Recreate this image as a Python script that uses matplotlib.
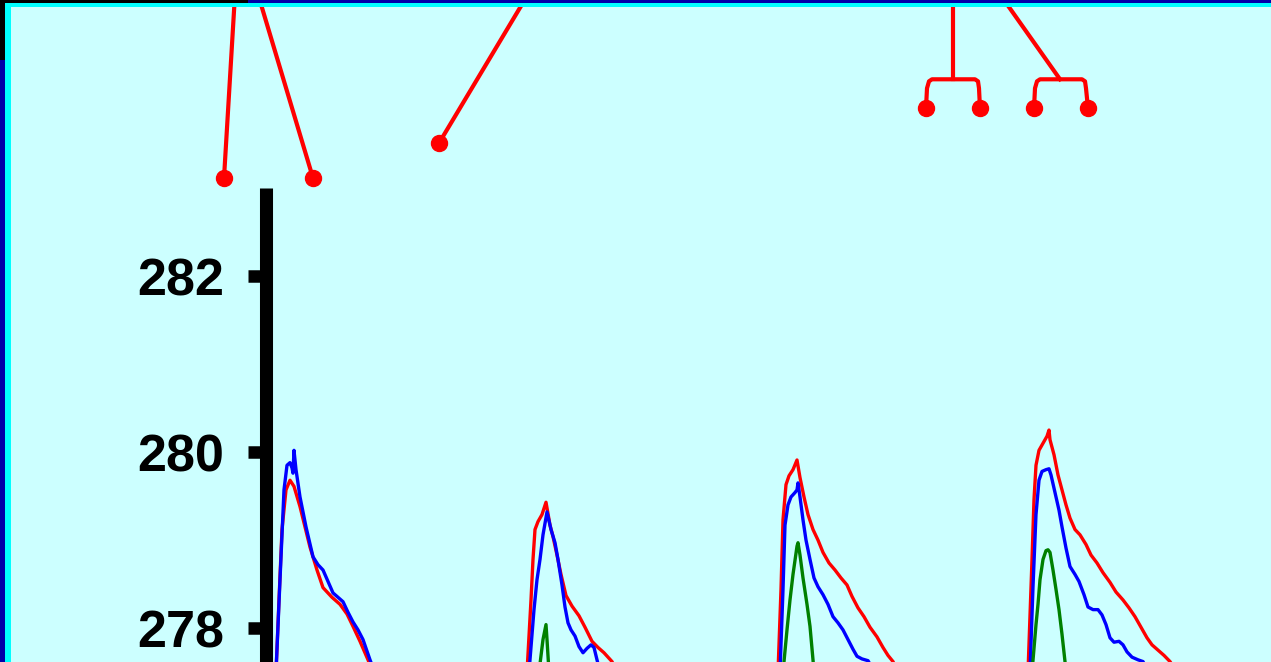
import matplotlib
matplotlib.use("Agg")
import matplotlib.pyplot as plt
from matplotlib.patches import Rectangle

# ---------------- data (x: time index, y: value) ----------------
yticks = [278, 280, 282]
ytick_labels = ["278", "280", "282"]

red1_x = [10, 13, 16, 20, 24, 28, 34, 44, 51, 57, 66, 74, 81, 87, 94, 102, 105]
red1_y = [277.50, 278.32, 279.12, 279.57, 279.68, 279.61, 279.38, 278.92, 278.66, 278.46,
          278.35, 278.27, 278.16, 278.02, 277.85, 277.64, 277.55]
blue1_x = [10, 14, 18, 21, 24, 26, 27, 28, 30, 34, 40, 47, 52, 57, 62, 67, 72, 77, 82, 87,
           92, 97, 104, 107]
blue1_y = [277.50, 278.55, 279.57, 279.85, 279.88, 279.82, 279.76, 280.02, 279.80, 279.49,
           279.15, 278.81, 278.72, 278.66, 278.53, 278.40, 278.35, 278.30, 278.18, 278.07,
           277.98, 277.87, 277.64, 277.55]

red2_x = [261, 265, 267, 269, 272, 276, 280, 284, 287, 291, 295, 300, 306, 313, 319, 326,
          332, 338, 346, 349]
red2_y = [277.50, 278.32, 278.78, 279.12, 279.21, 279.29, 279.43, 279.17, 279.04, 278.83,
          278.61, 278.37, 278.25, 278.14, 278.01, 277.85, 277.78, 277.72, 277.62, 277.55]
blue2_x = [263, 268, 271, 274, 277, 281, 285, 289, 292, 296, 299, 302, 305, 309, 313, 317,
           321, 325, 328, 331, 333]
blue2_y = [277.50, 278.21, 278.55, 278.78, 279.06, 279.32, 279.12, 278.97, 278.78, 278.49,
           278.24, 278.06, 277.98, 277.91, 277.79, 277.72, 277.77, 277.81, 277.78, 277.64,
           277.55]
green2_x = [273, 277, 280, 281, 283]
green2_y = [277.50, 277.87, 278.04, 277.87, 277.50]

red3_x = [512, 515, 517, 520, 523, 527, 531, 534, 538, 542, 547, 552, 557, 563, 569, 575,
          581, 586, 592, 598, 604, 611, 617, 622, 627, 630]
red3_y = [277.50, 278.44, 279.23, 279.63, 279.73, 279.80, 279.91, 279.71, 279.49, 279.29,
          279.12, 279.00, 278.86, 278.74, 278.66, 278.57, 278.49, 278.36, 278.23, 278.13,
          278.01, 277.90, 277.78, 277.69, 277.62, 277.55]
blue3_x = [514, 517, 519, 522, 525, 529, 531, 532, 534, 537, 540, 544, 548, 552, 557, 562,
           567, 572, 577, 582, 587, 591, 596, 602, 606]
blue3_y = [277.50, 278.44, 279.17, 279.40, 279.49, 279.54, 279.57, 279.65, 279.49, 279.23,
           279.00, 278.78, 278.57, 278.47, 278.38, 278.27, 278.13, 278.06, 277.98, 277.87,
           277.76, 277.68, 277.65, 277.63, 277.55]
green3_x = [517, 521, 524, 527, 531, 532, 534, 537, 541, 544, 547, 548]
green3_y = [277.50, 277.98, 278.32, 278.61, 278.93, 278.97, 278.83, 278.57, 278.27, 278.02,
            277.64, 277.50]

red4_x = [762, 766, 768, 770, 773, 777, 781, 783, 784, 788, 792, 796, 800, 804, 809, 814,
          820, 825, 831, 837, 844, 850, 857, 863, 869, 875, 881, 886, 892, 898, 904, 908]
red4_y = [277.50, 278.78, 279.46, 279.85, 280.02, 280.10, 280.18, 280.25, 280.14, 279.97,
          279.74, 279.57, 279.40, 279.25, 279.12, 279.06, 278.95, 278.83, 278.74, 278.63,
          278.52, 278.41, 278.32, 278.23, 278.13, 278.01, 277.89, 277.81, 277.75, 277.69,
          277.62, 277.55]
blue4_x = [764, 767, 770, 773, 776, 780, 783, 785, 789, 793, 796, 800, 804, 809, 813, 818,
           822, 827, 832, 836, 840, 844, 848, 853, 857, 861, 866, 872, 877, 880]
blue4_y = [277.50, 278.47, 279.29, 279.68, 279.78, 279.80, 279.81, 279.74, 279.54, 279.34,
           279.15, 278.91, 278.70, 278.61, 278.53, 278.38, 278.24, 278.21, 278.21, 278.15,
           278.04, 277.89, 277.84, 277.85, 277.81, 277.73, 277.67, 277.64, 277.62, 277.55]
green4_x = [766, 770, 772, 774, 777, 780, 782, 784, 787, 790, 793, 796, 799, 800]
green4_y = [277.50, 278.04, 278.27, 278.55, 278.78, 278.88, 278.89, 278.86, 278.66, 278.44,
            278.21, 277.93, 277.62, 277.50]

# annotation pointers (data coordinates of main axes, drawn outside the plot area)
pointer_tops_x = [-31, -8, 262]
pointer_tops_y = [285.2, 285.2, 285.2]
pointer_dots_x = [-42, 47, 173]
pointer_dots_y = [283.113, 283.113, 283.51]

bracket1_x = [660, 661, 663, 666, 709, 712, 713, 714]
bracket1_y = [283.906, 284.133, 284.212, 284.235, 284.235, 284.212, 284.133, 283.906]
stem1_x = [687, 687]
stem1_y = [285.2, 284.235]
bracket2_x = [768, 769, 771, 774, 816, 819, 820, 822]
bracket2_y = [283.906, 284.133, 284.212, 284.235, 284.235, 284.212, 284.133, 283.906]
stem2_x = [734, 794]
stem2_y = [285.2, 284.235]

# ---------------- figure ----------------
W, H = 1271, 662
fig = plt.figure(figsize=(W / 100, H / 100), dpi=100)
fig.patch.set_facecolor("#CCFFFF")

# frame bands (figure pixel fractions)
def frect(x0, y0, w, h, color):
    fig.patches.append(Rectangle((x0 / W, 1 - (y0 + h) / H), w / W, h / H,
                                 transform=fig.transFigure, color=color, lw=0, zorder=0))

frect(0, 0, W, 2.7, "#0000A8")
frect(0, 0, 248, 2.7, "#000000")
frect(5, 2.7, W, 4.6, "#00FFFF")
frect(0, 0, 5, H, "#0000A8")
frect(0, 0, 5, 60, "#000000")
frect(5, 2.7, 5.5, H, "#00FFFF")

ax_left_px, ax_top_px = 266, 188
ax = fig.add_axes([ax_left_px / W, 0, (W - ax_left_px) / W, (H - ax_top_px) / H])
ax.set_facecolor("none")
ax.set_xlim(0, W - ax_left_px)
ax.set_ylim(277.615, 283.0)

lw = 2.4
ax.plot(red1_x, red1_y, color="#FF0000", lw=lw, zorder=3)
ax.plot(blue1_x, blue1_y, color="#0000FF", lw=lw, zorder=4)
ax.plot(red2_x, red2_y, color="#FF0000", lw=lw, zorder=3)
ax.plot(blue2_x, blue2_y, color="#0000FF", lw=lw, zorder=4)
ax.plot(green2_x, green2_y, color="#008000", lw=lw, zorder=5)
ax.plot(red3_x, red3_y, color="#FF0000", lw=lw, zorder=3)
ax.plot(blue3_x, blue3_y, color="#0000FF", lw=lw, zorder=4)
ax.plot(green3_x, green3_y, color="#008000", lw=lw, zorder=5)
ax.plot(red4_x, red4_y, color="#FF0000", lw=lw, zorder=3)
ax.plot(blue4_x, blue4_y, color="#0000FF", lw=lw, zorder=4)
ax.plot(green4_x, green4_y, color="#008000", lw=lw, zorder=5)

# annotation pointers
alw = 3.0
for tx, ty, dx, dy in zip(pointer_tops_x, pointer_tops_y, pointer_dots_x, pointer_dots_y):
    ax.plot([tx, dx], [ty, dy], color="#FF0000", lw=alw, clip_on=False, zorder=6,
            solid_capstyle="butt")
    ax.plot([dx], [dy], "o", color="#FF0000", ms=11.5, clip_on=False, zorder=6)
for bx, by, sx, sy in [(bracket1_x, bracket1_y, stem1_x, stem1_y),
                       (bracket2_x, bracket2_y, stem2_x, stem2_y)]:
    ax.plot(bx, by, color="#FF0000", lw=alw, clip_on=False, zorder=6,
            solid_joinstyle="round")
    ax.plot(sx, sy, color="#FF0000", lw=alw, clip_on=False, zorder=6)
    ax.plot([bx[0], bx[-1]], [by[0], by[-1]], "o", color="#FF0000", ms=11.5,
            clip_on=False, zorder=6)

# axes styling
for s in ["top", "right", "bottom"]:
    ax.spines[s].set_visible(False)
ax.spines["left"].set_linewidth(9.4)
ax.spines["left"].set_color("black")
ax.spines["left"].set_capstyle("butt")
ax.set_xticks([])
ax.set_yticks(yticks)
ax.set_yticklabels(ytick_labels)
ax.tick_params(axis="y", direction="out", length=13, width=9, color="black", pad=17)
for lab in ax.get_yticklabels():
    lab.set_fontfamily("Liberation Sans")
    lab.set_fontweight("bold")
    lab.set_fontsize(37.5)

fig.savefig("out.png", dpi=100, facecolor=fig.get_facecolor())
